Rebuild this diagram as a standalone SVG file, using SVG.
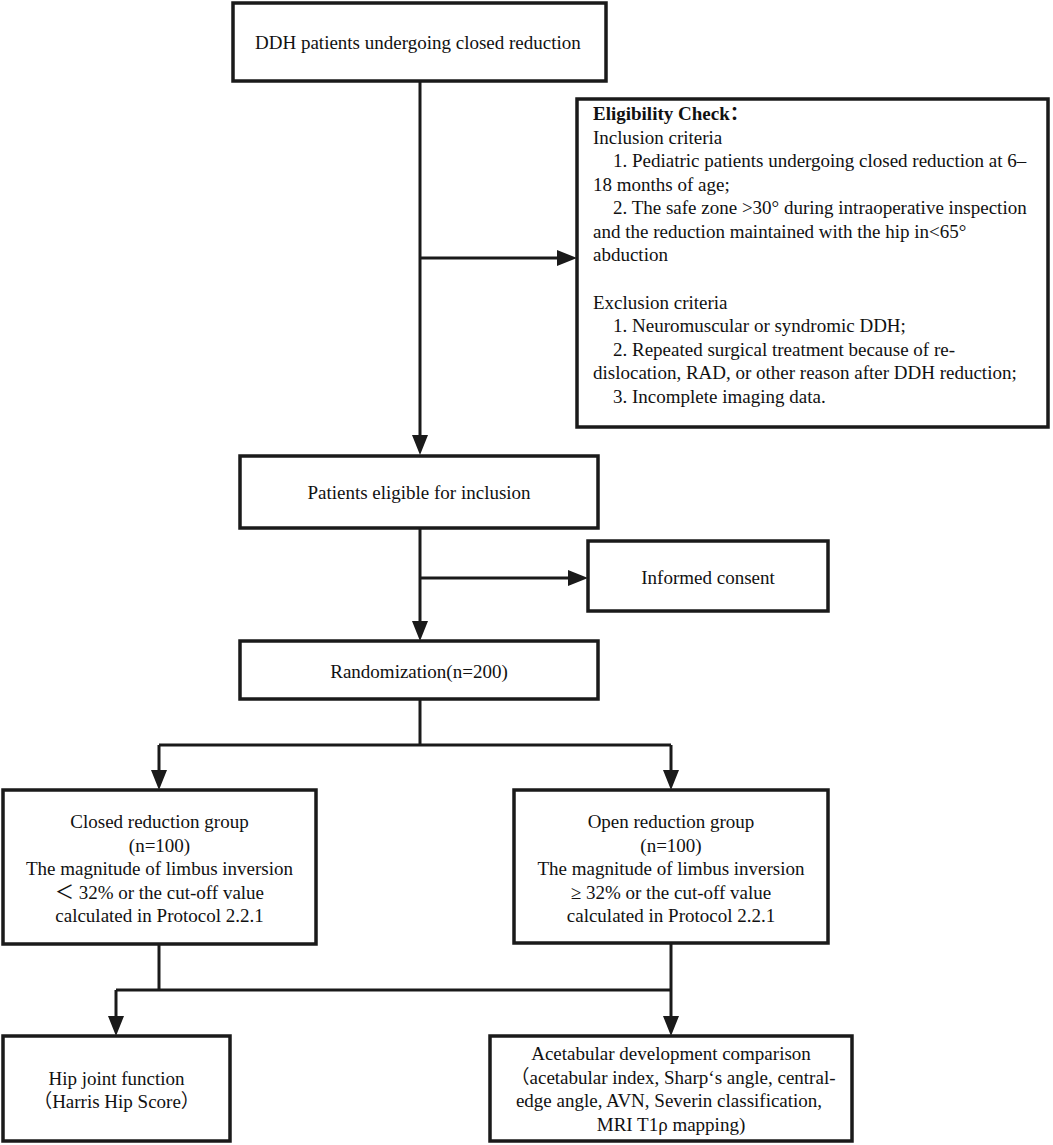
<svg xmlns="http://www.w3.org/2000/svg" width="1053" height="1145" viewBox="0 0 1053 1145">
<style>
.box{fill:#fff;stroke:#1a1a1a;stroke-width:3.5}
.ln{fill:none;stroke:#1a1a1a;stroke-width:3}
.t{font-family:"Liberation Serif","Times New Roman","Noto Sans CJK SC",serif;font-size:19px;fill:#111}
.c{text-anchor:middle}
.b{font-weight:bold}
</style>
<defs>
<marker id="ah" markerUnits="userSpaceOnUse" markerWidth="20" markerHeight="16" refX="10" refY="8" orient="auto">
<path d="M0,0 L20,8 L0,16 z" fill="#1a1a1a"/>
</marker>
</defs>
<rect width="1053" height="1145" fill="#fff"/>
<g id="connectors">
<path class="ln" d="M420,81 V445" marker-end="url(#ah)"/>
<path class="ln" d="M420,258 H567" marker-end="url(#ah)"/>
<path class="ln" d="M420,528 V631" marker-end="url(#ah)"/>
<path class="ln" d="M420,578 H578" marker-end="url(#ah)"/>
<path class="ln" d="M420,699 V745"/>
<path class="ln" d="M159,745 H671"/>
<path class="ln" d="M159,745 V780" marker-end="url(#ah)"/>
<path class="ln" d="M671,745 V780" marker-end="url(#ah)"/>
<path class="ln" d="M159,944 V990"/>
<path class="ln" d="M116,990 H671"/>
<path class="ln" d="M116,990 V1026" marker-end="url(#ah)"/>
<path class="ln" d="M671,943 V1026" marker-end="url(#ah)"/>
</g>
<g id="n1">
<rect class="box" x="233" y="3" width="373" height="78"/>
<text class="t" x="255" y="49">DDH patients undergoing closed reduction</text>
</g>
<g id="n2">
<rect class="box" x="577" y="99" width="471" height="328"/>
<text class="t b" x="593" y="120">Eligibility Check：</text>
<text class="t" x="593" y="144">Inclusion criteria</text>
<text class="t" x="613" y="167">1. Pediatric patients undergoing closed reduction at 6–</text>
<text class="t" x="593" y="191">18 months of age;</text>
<text class="t" x="613" y="214">2. The safe zone &gt;30° during intraoperative inspection</text>
<text class="t" x="593" y="238">and the reduction maintained with the hip in&lt;65°</text>
<text class="t" x="593" y="261">abduction</text>
<text class="t" x="593" y="309">Exclusion criteria</text>
<text class="t" x="613" y="332">1. Neuromuscular or syndromic DDH;</text>
<text class="t" x="613" y="356">2. Repeated surgical treatment because of re-</text>
<text class="t" x="593" y="379">dislocation, RAD, or other reason after DDH reduction;</text>
<text class="t" x="613" y="403">3. Incomplete imaging data.</text>
</g>
<g id="n3">
<rect class="box" x="240" y="456" width="358" height="72"/>
<text class="t c" x="419" y="499">Patients eligible for inclusion</text>
</g>
<g id="n4">
<rect class="box" x="588" y="541" width="240" height="70"/>
<text class="t c" x="708" y="584">Informed consent</text>
</g>
<g id="n5">
<rect class="box" x="240" y="641" width="358" height="58"/>
<text class="t c" x="419" y="678">Randomization(n=200)</text>
</g>
<g id="n6">
<rect class="box" x="3" y="790" width="313" height="154"/>
<text class="t c" x="159.5" y="828">Closed reduction group</text>
<text class="t c" x="159.5" y="852">(n=100)</text>
<text class="t c" x="159.5" y="875">The magnitude of limbus inversion</text>
<text class="t c" x="159.5" y="899">＜ 32% or the cut-off value</text>
<text class="t c" x="159.5" y="922">calculated in Protocol 2.2.1</text>
</g>
<g id="n7">
<rect class="box" x="514" y="790" width="314" height="153"/>
<text class="t c" x="671" y="828">Open reduction group</text>
<text class="t c" x="671" y="852">(n=100)</text>
<text class="t c" x="671" y="875">The magnitude of limbus inversion</text>
<text class="t c" x="671" y="899">≥ 32% or the cut-off value</text>
<text class="t c" x="671" y="922">calculated in Protocol 2.2.1</text>
</g>
<g id="n8">
<rect class="box" x="3" y="1036" width="227" height="105"/>
<text class="t c" x="116.5" y="1085">Hip joint function</text>
<text class="t c" x="116.5" y="1108">（Harris Hip Score）</text>
</g>
<g id="n9">
<rect class="box" x="490" y="1036" width="362" height="105"/>
<text class="t c" x="671" y="1060">Acetabular development comparison</text>
<text class="t c" x="673" y="1084">（acetabular index, Sharp‘s angle, central-</text>
<text class="t c" x="669" y="1107">edge angle, AVN, Severin classification,</text>
<text class="t c" x="671" y="1131">MRI T1ρ mapping)</text>
</g>
</svg>
